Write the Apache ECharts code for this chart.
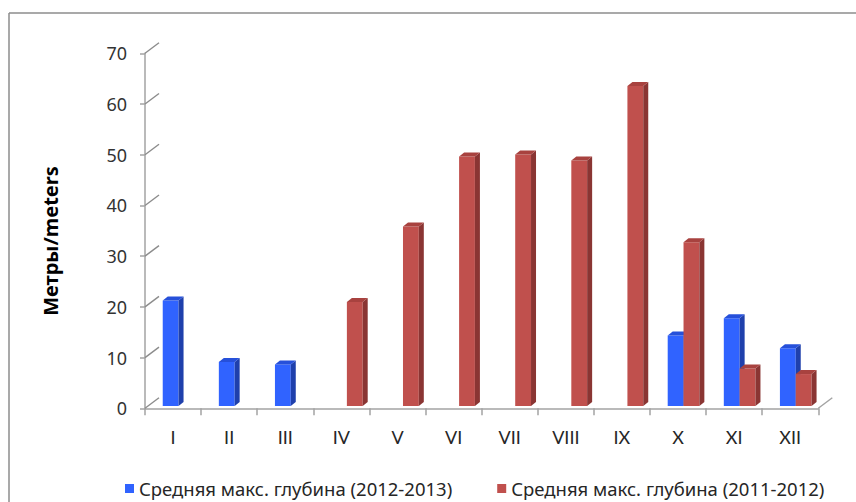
<!DOCTYPE html>
<html>
<head>
<meta charset="utf-8">
<script src="https://cdn.jsdelivr.net/npm/echarts@6/dist/echarts.min.js"></script>
<style>
html,body{margin:0;padding:0;background:#fff;}
#chart{width:856px;height:502px;}
</style>
</head>
<body>
<div id="chart"></div>
<script>
// ---- data ----
const categories = ['I','II','III','IV','V','VI','VII','VIII','IX','X','XI','XII'];
const seriesNames = ['Средняя макс. глубина (2012-2013)', 'Средняя макс. глубина (2011-2012)'];
const depth2012_2013 = [20.8, 8.7, 8.2, null, null, null, null, null, null, 13.9, 17.3, 11.4];
const depth2011_2012 = [null, null, null, 20.5, 35.4, 49.2, 49.6, 48.4, 63.1, 32.3, 7.4, 6.3];
const yTicks = [0, 10, 20, 30, 40, 50, 60, 70];
const yTitle = 'Метры/meters';

// ---- layout / style ----
const FONT = '"Noto Sans", "DejaVu Sans", sans-serif';
const CAT_FONT = 'Lato, "Open Sans", sans-serif';
const G = {left: 145, top: 53.3, width: 673.3, height: 355};
const DEPTH = {x: 14, y: 10.5};
const BAR_OFF = {x: 5.5, y: 2.3};
const BAR_3D = {x: 5, y: 4};
const GRID_COLOR = '#8c8c8c';
const AXIS_COLOR = '#a3a3a3';

const palettes = [
  {front: '#3063FF', side: '#1F40AC', top: '#2650DA'},
  {front: '#C0504D', side: '#8A3533', top: '#A8423F'}
];

function toData(arr) {
  const out = [];
  arr.forEach((v, i) => { if (v != null) out.push([i, v]); });
  return out;
}

function barRenderer(slot) {
  const pal = palettes[slot];
  return function (params, api) {
    const cat = api.value(0), val = api.value(1);
    const top = api.coord([cat, val]);
    const base = api.coord([cat, 0]);
    const bw = api.size([1, 0])[0] * 0.282;
    const x0 = slot === 0 ? top[0] - bw : top[0];
    const y0 = top[1], y1 = base[1];
    const dx = BAR_3D.x, dy = BAR_3D.y;
    return {
      type: 'group',
      children: [
        {type: 'rect', shape: {x: x0, y: y0, width: bw, height: y1 - y0}, style: {fill: pal.front}},
        {type: 'polygon', shape: {points: [[x0 + bw, y0], [x0 + bw + dx, y0 - dy], [x0 + bw + dx, y1 - dy], [x0 + bw, y1]]}, style: {fill: pal.side}},
        {type: 'polygon', shape: {points: [[x0, y0], [x0 + dx, y0 - dy], [x0 + bw + dx, y0 - dy], [x0 + bw, y0]]}, style: {fill: pal.top}}
      ]
    };
  };
}

const chart = echarts.init(document.getElementById('chart'), null, {renderer: 'svg'});

const option = {
  animation: false,
  backgroundColor: '#fff',
  textStyle: {fontFamily: FONT},
  grid: [
    {left: G.left, top: G.top, width: G.width, height: G.height},
    {left: G.left + DEPTH.x, top: G.top - DEPTH.y, width: G.width, height: G.height},
    {left: G.left + BAR_OFF.x, top: G.top - BAR_OFF.y, width: G.width, height: G.height}
  ],
  xAxis: [
    {type: 'category', gridIndex: 0, data: categories, boundaryGap: true,
     axisLine: {show: true, lineStyle: {color: AXIS_COLOR, width: 1.5}},
     axisTick: {show: true, length: 7, lineStyle: {color: AXIS_COLOR, width: 1.5}},
     axisLabel: {interval: 0, fontSize: 18, color: '#262626', margin: 20, fontFamily: CAT_FONT},
     splitLine: {show: false}},
    {type: 'category', gridIndex: 1, data: categories, show: false},
    {type: 'category', gridIndex: 2, data: categories, show: false}
  ],
  yAxis: [
    {type: 'value', gridIndex: 0, min: 0, max: 70, interval: 10,
     axisLine: {show: true, lineStyle: {color: AXIS_COLOR, width: 1.5}},
     axisTick: {show: true, length: 5, lineStyle: {color: AXIS_COLOR, width: 1.5}},
     axisLabel: {fontSize: 18, color: '#333', margin: 18, fontFamily: FONT},
     splitLine: {show: false}},
    {type: 'value', gridIndex: 1, min: 0, max: 70, interval: 10,
     axisLine: {show: false}, axisTick: {show: false}, axisLabel: {show: false},
     splitLine: {show: true, lineStyle: {color: GRID_COLOR, width: 1.6, shadowColor: 'rgba(0,0,0,0.2)', shadowOffsetY: 1, shadowBlur: 1}}},
    {type: 'value', gridIndex: 2, min: 0, max: 70, interval: 10, show: false}
  ],
  legend: {
    left: 120, top: 474, itemWidth: 9, itemHeight: 9, itemGap: 45, icon: 'rect',
    textStyle: {fontSize: 18.5, color: '#262626', fontFamily: FONT},
    data: seriesNames
  },
  graphic: [
    {type: 'line', shape: {x1: 9, y1: 13, x2: 856, y2: 13}, style: {stroke: '#8c8c8c', lineWidth: 1.5}},
    {type: 'line', shape: {x1: 9, y1: 13, x2: 9, y2: 502}, style: {stroke: '#8c8c8c', lineWidth: 1.5}},
    {type: 'text', x: 50, y: 241, rotation: Math.PI / 2,
     style: {text: yTitle, font: 'bold 20px ' + FONT, fill: '#000', align: 'center', verticalAlign: 'middle'}}
  ],
  series: [
    {
      type: 'custom', name: 'connectors', xAxisIndex: 0, yAxisIndex: 0, silent: true,
      data: yTicks.map(v => [0, v]),
      renderItem: function (params, api) {
        const cs = params.coordSys;
        const p = api.coord([0, api.value(1)]);
        const children = [{type: 'line', shape: {x1: cs.x, y1: p[1], x2: cs.x + DEPTH.x, y2: p[1] - DEPTH.y},
          style: {stroke: GRID_COLOR, lineWidth: 1.4}}];
        if (api.value(1) === 0) {
          children.push({type: 'line', shape: {x1: cs.x + cs.width, y1: p[1], x2: cs.x + cs.width + DEPTH.x, y2: p[1] - DEPTH.y},
            style: {stroke: AXIS_COLOR, lineWidth: 1.4}});
        }
        return {type: 'group', children: children};
      },
      z: 1
    },
    {
      type: 'custom', name: seriesNames[0], xAxisIndex: 2, yAxisIndex: 2,
      itemStyle: {color: palettes[0].front},
      data: toData(depth2012_2013),
      renderItem: barRenderer(0), z: 3
    },
    {
      type: 'custom', name: seriesNames[1], xAxisIndex: 2, yAxisIndex: 2,
      itemStyle: {color: palettes[1].front},
      data: toData(depth2011_2012),
      renderItem: barRenderer(1), z: 4
    }
  ]
};
chart.setOption(option);
</script>
</body>
</html>
